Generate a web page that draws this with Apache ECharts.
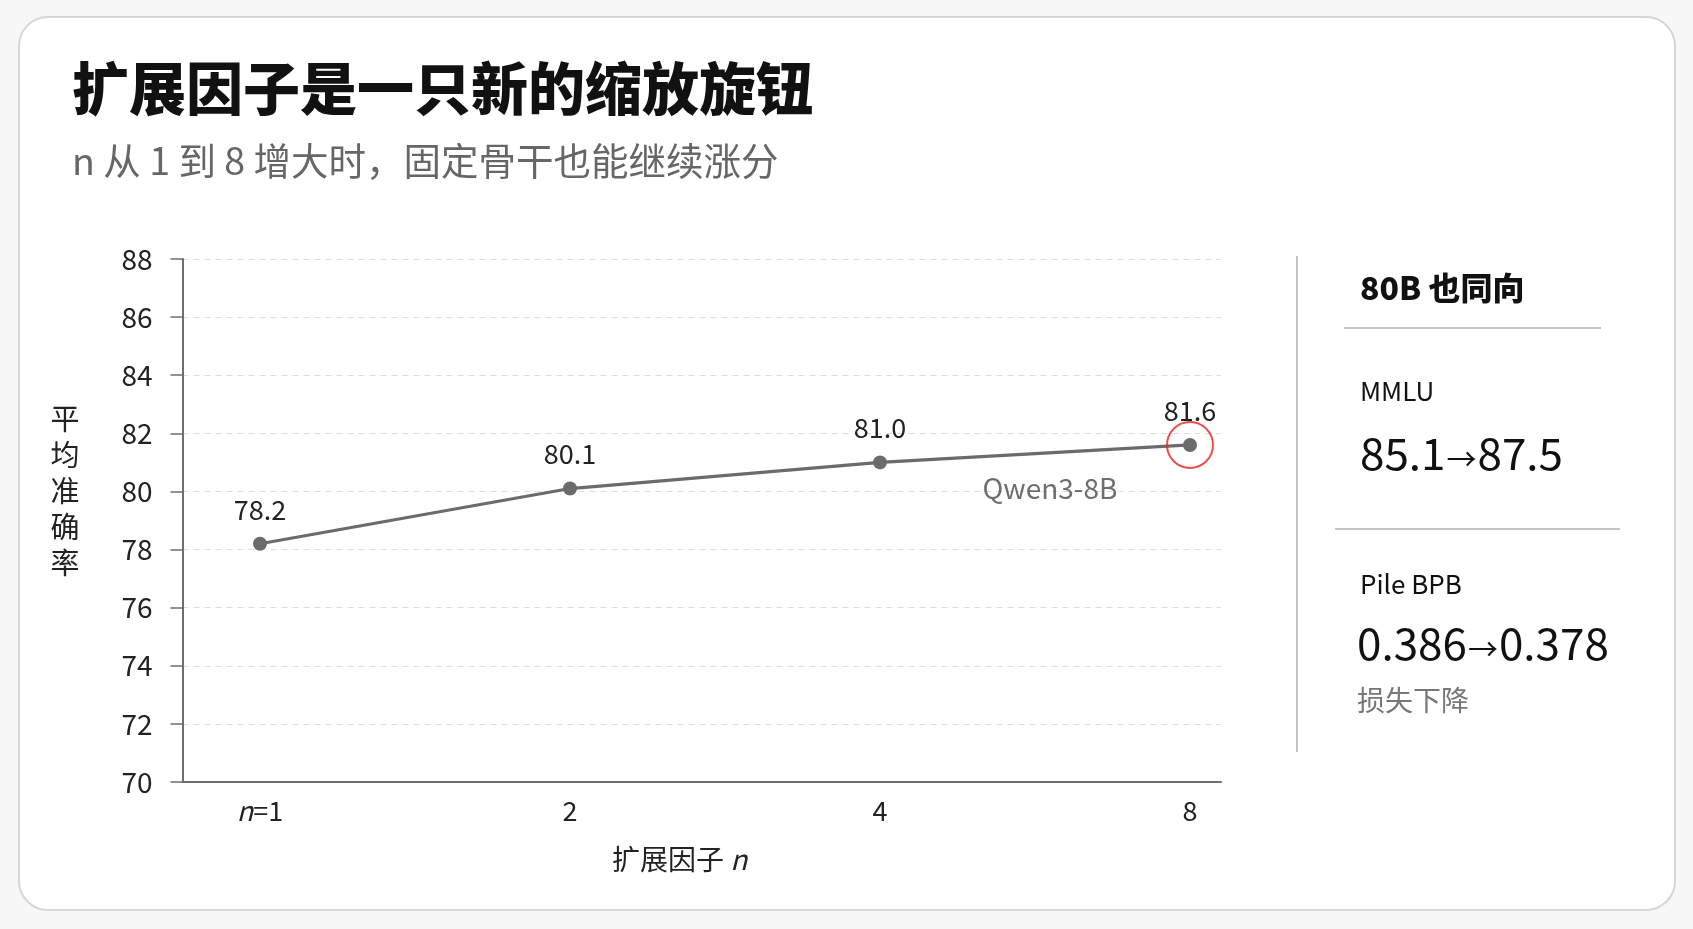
<!DOCTYPE html>
<html>
<head>
<meta charset="utf-8">
<script src="https://cdn.jsdelivr.net/npm/echarts@6/dist/echarts.min.js"></script>
<style>
html,body{margin:0;padding:0;width:1693px;height:929px;background:#f7f7f7;overflow:hidden;}
#card{position:absolute;left:18px;top:16px;width:1654px;height:891px;border:2px solid #d6d6d6;border-radius:30px;background:#fff;}
#chart{position:absolute;left:0;top:0;width:1693px;height:929px;}
</style>
</head>
<body>
<div id="card"></div>
<div id="chart"></div>
<script>
const FONT = '"Noto Sans CJK SC","Noto Sans",sans-serif';
const titleText = '扩展因子是一只新的缩放旋钮';
const subtitleText = 'n 从 1 到 8 增大时，固定骨干也能继续涨分';
const categories = ['n=1', '2', '4', '8'];
const accuracy = [78.2, 80.1, 81.0, 81.6];
const yTicks = [70, 72, 74, 76, 78, 80, 82, 84, 86, 88];
const highlightLabel = 'Qwen3-8B';
const sideTitle = '80B 也同向';
const sideMetrics = ['MMLU', 'Pile BPB'];
const sideFrom = ['85.1', '0.386'];
const sideTo = ['87.5', '0.378'];
const sideNote = '损失下降';

const chart = echarts.init(document.getElementById('chart'), null, {renderer: 'canvas'});
const lineData = accuracy.map((v, i) => [i, v]);
const last = lineData[lineData.length - 1];

function valueText(i, x, y) {
  return {type: 'text', x: x, y: y, style: {
    text: '{v|' + sideFrom[i] + '}{a|→}{v|' + sideTo[i] + '}',
    verticalAlign: 'middle',
    rich: {
      v: {fontSize: 44, fontFamily: FONT, fill: '#111', color: '#111'},
      a: {fontSize: 30, fontFamily: FONT, fill: '#111', color: '#111', padding: [11, 1, 0, 1]}
    }
  }};
}

chart.setOption({
  backgroundColor: 'transparent',
  animation: false,
  textStyle: {fontFamily: FONT},
  grid: {left: 182.5, right: 472, top: 259, bottom: 147, containLabel: false},
  xAxis: {
    type: 'value', min: -0.25, max: 3.1,
    axisLine: {show: true, onZero: false, lineStyle: {color: '#6e6e6e', width: 2}},
    axisTick: {show: false},
    splitLine: {show: false},
    axisLabel: {
      customValues: [0, 1, 2, 3],
      margin: 15,
      fontSize: 27, color: '#222', fontFamily: FONT,
      formatter: function (v) {
        const s = categories[Math.round(v)];
        if (s && s.indexOf('n=') === 0) return '{i|n}' + s.slice(1);
        return s || '';
      },
      rich: {i: {fontStyle: 'italic', fontSize: 27, color: '#222', fontFamily: FONT}}
    },
    name: '扩展因子 {i|n}',
    nameLocation: 'middle',
    nameGap: 63,
    nameTextStyle: {fontSize: 28, color: '#222', fontFamily: FONT, padding: [0, 44, 0, 0],
      rich: {i: {fontStyle: 'italic', fontSize: 28, color: '#222', fontFamily: FONT}}}
  },
  yAxis: {
    type: 'value', min: yTicks[0], max: yTicks[yTicks.length - 1], interval: 2,
    axisLine: {show: true, onZero: false, lineStyle: {color: '#6e6e6e', width: 2}},
    axisTick: {show: true, length: 12, lineStyle: {color: '#6e6e6e', width: 1.5}},
    axisLabel: {fontSize: 28, color: '#222', margin: 30, fontFamily: FONT},
    splitLine: {show: true, lineStyle: {color: '#dcdcdc', type: [6, 5], width: 1}}
  },
  series: [
    {
      type: 'line',
      data: lineData,
      symbol: 'circle',
      symbolSize: 14,
      lineStyle: {color: '#6b6b6b', width: 3.2},
      itemStyle: {color: '#6b6b6b'},
      label: {show: true, position: 'top', distance: 14, fontSize: 27, color: '#222', fontFamily: FONT,
        formatter: p => p.value[1].toFixed(1)},
      z: 3
    },
    {
      type: 'scatter',
      data: [last],
      symbol: 'circle',
      symbolSize: 46,
      itemStyle: {color: 'rgba(0,0,0,0)', borderColor: '#e8231f', borderWidth: 2},
      label: {show: true, position: 'inside', offset: [-140, 43], formatter: highlightLabel,
        fontSize: 28, color: '#4a4a4a', fontFamily: FONT},
      z: 4
    }
  ],
  graphic: [
    {type: 'text', left: 72, top: 60, style: {text: titleText, font: '900 57px ' + FONT, fill: '#111'}},
    {type: 'text', left: 72, top: 142, style: {text: subtitleText, font: '37.5px ' + FONT, fill: '#666'}},
    {type: 'text', x: 65, y: 491, style: {text: '平\n均\n准\n确\n率', font: '29px ' + FONT, fill: '#222', align: 'center', verticalAlign: 'middle', lineHeight: 36}},
    {type: 'line', shape: {x1: 1297, y1: 256, x2: 1297, y2: 752}, style: {stroke: '#c4c4c4', lineWidth: 2}},
    {type: 'text', x: 1360, y: 288, style: {text: sideTitle, font: '900 32px ' + FONT, fill: '#111', verticalAlign: 'middle'}},
    {type: 'line', shape: {x1: 1344, y1: 328, x2: 1601, y2: 328}, style: {stroke: '#c4c4c4', lineWidth: 2}},
    {type: 'text', x: 1360, y: 391, style: {text: sideMetrics[0], font: '26px ' + FONT, fill: '#111', verticalAlign: 'middle'}},
    valueText(0, 1360, 453),
    {type: 'line', shape: {x1: 1335, y1: 529, x2: 1620, y2: 529}, style: {stroke: '#c4c4c4', lineWidth: 2}},
    {type: 'text', x: 1360, y: 584, style: {text: sideMetrics[1], font: '26px ' + FONT, fill: '#111', verticalAlign: 'middle'}},
    valueText(1, 1357, 643),
    {type: 'text', x: 1357, y: 700, style: {text: sideNote, font: '28px ' + FONT, fill: '#777', verticalAlign: 'middle'}}
  ]
});
</script>
</body>
</html>
